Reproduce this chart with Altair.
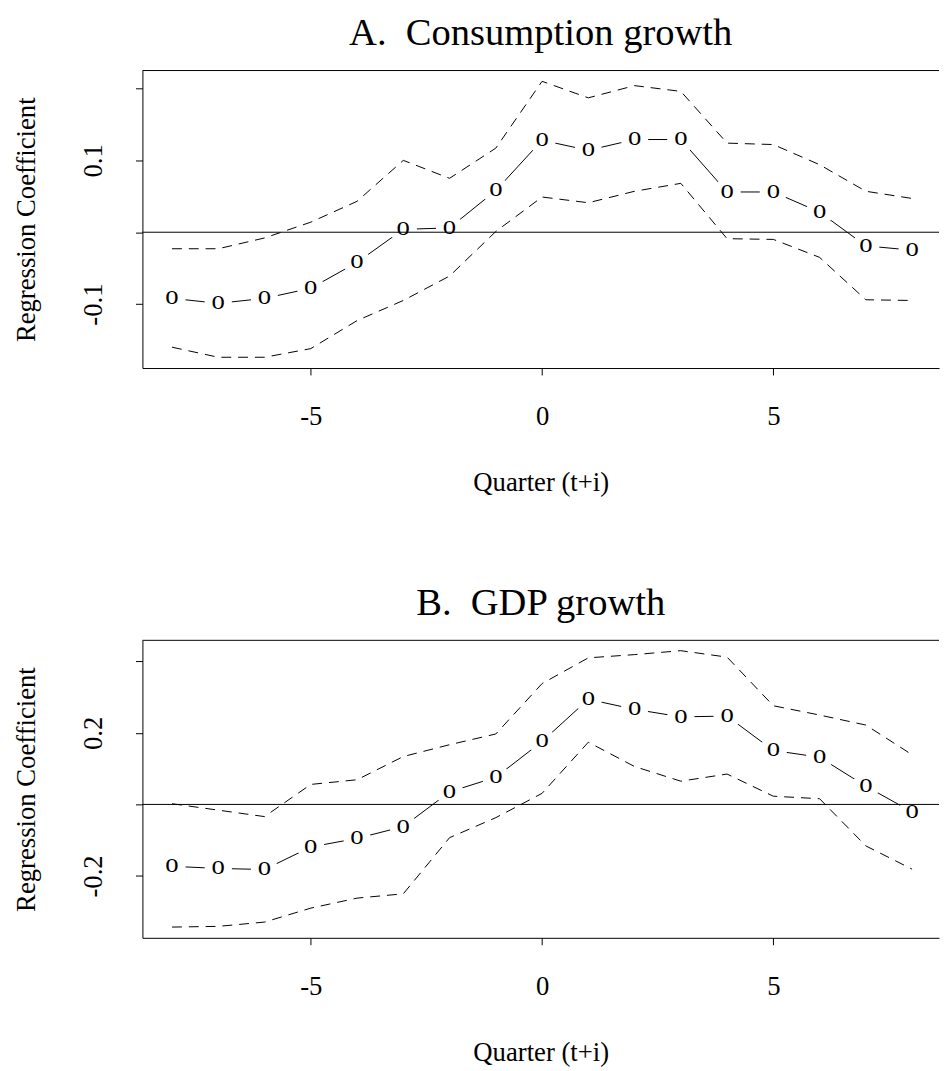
import altair as alt
import pandas as pd

quarters = list(range(-8, 9))

# Panel A: Consumption growth
A_coef = [-0.092, -0.099, -0.092, -0.078, -0.042, 0.004, 0.006, 0.058, 0.128,
          0.114, 0.129, 0.129, 0.056, 0.056, 0.028, -0.019, -0.025]
A_upper = [-0.023, -0.023, -0.008, 0.014, 0.043, 0.100, 0.075, 0.117, 0.210,
           0.187, 0.204, 0.196, 0.124, 0.122, 0.094, 0.057, 0.047]
A_lower = [-0.160, -0.174, -0.174, -0.162, -0.123, -0.095, -0.061, 0.001, 0.049,
           0.041, 0.057, 0.068, -0.009, -0.010, -0.035, -0.094, -0.095]
A_ydomain = [-0.189, 0.225]
A_ytick_values = [-0.1, 0.0, 0.1, 0.2]
A_ytick_labels = ["-0.1", "", "0.1", ""]

# Panel B: GDP growth
B_coef = [-0.173, -0.179, -0.182, -0.119, -0.095, -0.062, 0.035, 0.076, 0.176,
          0.294, 0.266, 0.245, 0.247, 0.151, 0.132, 0.051, -0.021]
B_upper = [0.002, -0.016, -0.034, 0.056, 0.069, 0.134, 0.167, 0.197, 0.338,
           0.410, 0.419, 0.430, 0.412, 0.276, 0.250, 0.222, 0.139]
B_lower = [-0.343, -0.341, -0.329, -0.290, -0.262, -0.250, -0.093, -0.037, 0.031,
           0.174, 0.106, 0.065, 0.085, 0.023, 0.016, -0.116, -0.181]
B_ydomain = [-0.373, 0.459]
B_ytick_values = [-0.2, 0.0, 0.2, 0.4]
B_ytick_labels = ["-0.2", "", "0.2", ""]

x_domain = [-8.64, 8.582]
x_tick_values = [-5, 0, 5]
x_tick_labels = ["-5", "0", "5"]

FONT = "Liberation Serif"
W = 806
H = 301


def label_expr(values, labels):
    expr = "''"
    for v, l in zip(values, labels):
        expr = f"abs(datum.value - ({v})) < 1e-9 ? '{l}' : ({expr})"
    return expr


def panel(title, coef, upper, lower, ydomain, yvals, ylabels):
    df = pd.DataFrame({"q": quarters, "coef": coef, "upper": upper, "lower": lower})
    xs = alt.Scale(domain=x_domain, nice=False, zero=False)
    ys = alt.Scale(domain=ydomain, nice=False, zero=False)
    xaxis = alt.Axis(values=x_tick_values, labelExpr=label_expr(x_tick_values, x_tick_labels),
                     title="Quarter (t+i)", grid=False, tickSize=7, tickColor="black",
                     domainColor="black", labelFont=FONT, labelFontSize=27, labelColor="black",
                     titleFont=FONT, titleFontSize=27, titleFontWeight="normal", titleColor="black",
                     labelPadding=29, titlePadding=41, labelFlush=False)
    yaxis = alt.Axis(values=yvals, labelExpr=label_expr(yvals, ylabels),
                     title="Regression Coefficient", grid=False, tickSize=7, tickColor="black",
                     domainColor="black", labelFont=FONT, labelFontSize=27, labelColor="black",
                     labelAngle=-90, labelAlign="center", labelBaseline="bottom",
                     labelPadding=28, labelFlush=False,
                     titleFont=FONT, titleFontSize=27, titleFontWeight="normal", titleColor="black",
                     titlePadding=40)
    base = alt.Chart(df)
    x = alt.X("q:Q", scale=xs, axis=xaxis)
    center = base.mark_line(color="black", strokeWidth=1).encode(
        x=x, y=alt.Y("coef:Q", scale=ys, axis=yaxis))
    mask = base.mark_circle(color="white", opacity=1, size=760).encode(
        x=alt.X("q:Q", scale=xs), y=alt.Y("coef:Q", scale=ys))
    up = base.mark_line(color="black", strokeWidth=1, strokeDash=[10, 7]).encode(
        x=alt.X("q:Q", scale=xs), y=alt.Y("upper:Q", scale=ys))
    lo = base.mark_line(color="black", strokeWidth=1, strokeDash=[10, 7]).encode(
        x=alt.X("q:Q", scale=xs), y=alt.Y("lower:Q", scale=ys))
    zero = alt.Chart(pd.DataFrame({"z": [0.0]})).mark_rule(color="black", strokeWidth=1).encode(
        y=alt.Y("z:Q", scale=ys))
    top = alt.Chart(pd.DataFrame({"z": [0.0]})).mark_rule(color="black", strokeWidth=1).encode(
        y=alt.value(0), x=alt.value(0), x2=alt.value(W))
    pts = base.mark_text(text="o", font=FONT, fontSize=27, color="black",
                         baseline="alphabetic", dy=6).encode(
        x=alt.X("q:Q", scale=xs), y=alt.Y("coef:Q", scale=ys))
    return alt.layer(center, mask, up, lo, zero, top, pts).properties(
        width=W, height=H,
        title=alt.TitleParams(title, font=FONT, fontSize=39, fontWeight="normal",
                              color="black", baseline="alphabetic", offset=-14))


pA = panel("A.\u00a0 Consumption growth", A_coef, A_upper, A_lower, A_ydomain,
           A_ytick_values, A_ytick_labels)
pB = panel("B.\u00a0 GDP growth", B_coef, B_upper, B_lower, B_ydomain,
           B_ytick_values, B_ytick_labels)

chart = alt.vconcat(pA, pB, spacing=275.5, bounds="flush").configure_view(stroke=None).properties(
    padding={"left": 4, "top": 0, "right": 0, "bottom": 0})

chart.save("out.html", embed_options={"renderer": "svg", "actions": False})
